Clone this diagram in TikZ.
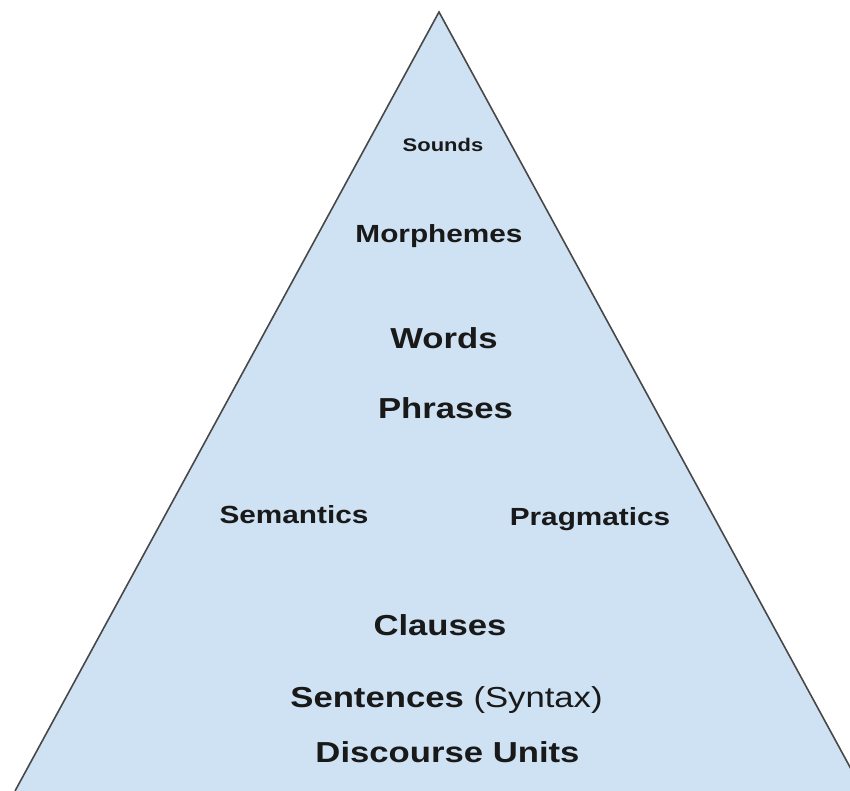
\documentclass[tikz,border=0pt]{standalone}
\usepackage{fontspec}
\newfontfamily\labfont[FakeStretch=1.2]{Liberation Sans}
\definecolor{pyrfill}{HTML}{CFE2F3}
\definecolor{pyrline}{HTML}{484848}
\tikzset{
  lab/.style={anchor=base, inner sep=0pt, text=black!90},
  fsA/.style={font=\labfont\bfseries\fontsize{18.3}{22}\selectfont},
  fsB/.style={font=\labfont\bfseries\fontsize{24.8}{30}\selectfont},
  fsC/.style={font=\labfont\bfseries\fontsize{28.9}{34}\selectfont},
}
\begin{document}
\begin{tikzpicture}[x=1pt,y=-1pt]
\useasboundingbox (0,0) rectangle (850,791);
\begin{scope}
\clip (0,0) rectangle (850,791);
\coordinate (apex) at (439,12);
\coordinate (bl) at (15,791);
\coordinate (br) at (863,791);
\draw[pyrline, fill=pyrfill, line width=1.6pt, line join=miter] (bl) -- (apex) -- (br);
\end{scope}
\node[lab,fsA] (sounds) at (443,152) {Sounds};
\node[lab,fsB] (morph) at (439,243) {Morphemes};
\node[lab,fsC] (words) at (444,348) {Words};
\node[lab,fsC] (phrases) at (445.5,418) {Phrases};
\node[lab,fsB] (sem) at (294,523) {Semantics};
\node[lab,fsB] (prag) at (590,525) {Pragmatics};
\node[lab,fsC] (clauses) at (440,635) {Clauses};
\node[lab,fsC] (sent) at (446.5,707) {Sentences \mdseries(Syntax)};
\node[lab,fsC] (disc) at (447.5,762) {Discourse Units};
\end{tikzpicture}
\end{document}
